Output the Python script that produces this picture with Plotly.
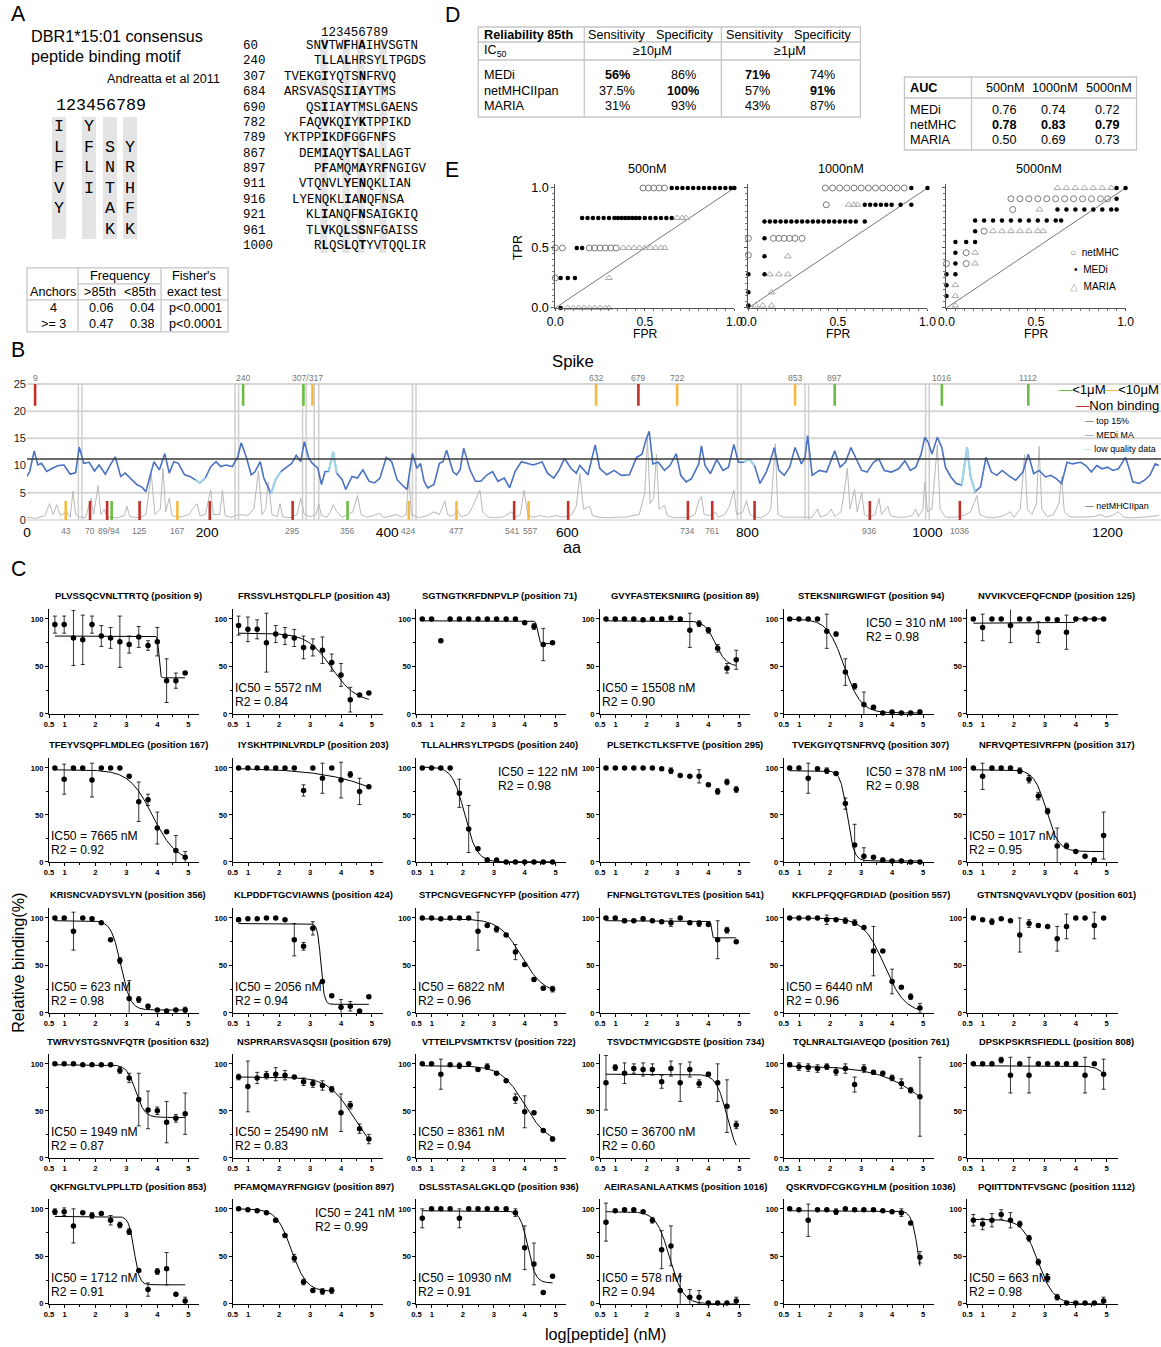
import numpy as np
import plotly.graph_objects as go

# The photographed page shows CSS pixels as  shot_x = 8 + 0.985*x,  shot_y = 6 + 0.992*y.
# Every position below is written in reference-picture pixels and mapped back through that.
OX, OY = 8.0, 6.0
SX, SY = 0.985, 0.992
W = int(round((1161 - OX) / SX))
H = int(round((1347 - OY) / SY))
FS = 1.0 / 0.988
SANS = "Liberation Sans, Arial, Helvetica, sans-serif"
MONO = "Liberation Mono, Courier New, monospace"


def fx(px):
    return ((px - OX) / SX) / W


def fy(py):
    return 1.0 - ((py - OY) / SY) / H


def fs(size):
    return size * FS


# ============================ DATA ============================
# ---- Panel A: motif
motif_header = "123456789"
motif_pos1 = ["I", "L", "F", "V", "Y"]
motif_pos4 = ["Y", "F", "L", "I"]
motif_pos6 = ["S", "N", "T", "A", "K"]
motif_pos9 = ["Y", "R", "H", "F", "K"]

align_start = [60, 240, 307, 684, 690, 782, 789, 867, 897, 911, 916, 921, 961, 1000]
align_seq = ["SNVTWFHAIHVSGTN", "TLLALHRSYLTPGDS", "TVEKGIYQTSNFRVQ", "ARSVASQSIIAYTMS",
             "QSIIAYTMSLGAENS", "FAQVKQIYKTPPIKD", "YKTPPIKDFGGFNFS", "DEMIAQYTSALLAGT",
             "PFAMQMAYRFNGIGV", "VTQNVLYENQKLIAN", "LYENQKLIANQFNSA", "KLIANQFNSAIGKIQ",
             "TLVKQLSSNFGAISS", "RLQSLQTYVTQQLIR"]
align_offset = [2, 1, 5, 5, 2, 3, 5, 3, 1, 3, 4, 2, 2, 1]

anchor_rows = ["4", "&gt;= 3"]
freq_above = ["0.06", "0.47"]
freq_below = ["0.04", "0.38"]
fisher_p = ["p&lt;0.0001", "p&lt;0.0001"]

# ---- Panel D tables
rel_methods = ["MEDi", "netMHCIIpan", "MARIA"]
sens_10uM = [56, 37.5, 31]
spec_10uM = [86, 100, 93]
sens_1uM = [71, 57, 43]
spec_1uM = [74, 91, 87]
auc_methods = ["MEDi", "netMHC", "MARIA"]
auc_thresholds = ["500nM", "1000nM", "5000nM"]
auc_500 = [0.76, 0.78, 0.50]
auc_1000 = [0.74, 0.83, 0.69]
auc_5000 = [0.72, 0.79, 0.73]

# ---- Panel E ROC points (FPR, TPR)
roc_titles = ["500nM", "1000nM", "5000nM"]
roc500_net = [(0, 0.5), (0.04, 0.5), (0.19, 0.5), (0.22, 0.5), (0.25, 0.5), (0.28, 0.5), (0.31, 0.5),
              (0.34, 0.5), (0, 0.25), (0.49, 1), (0.52, 1), (0.55, 1), (0.58, 1), (0.61, 1)]
roc500_medi = [(0.03, 0), (0.03, 0.25), (0.07, 0.25), (0.11, 0.25), (0.12, 0.5), (0.15, 0.5),
               (0.15, 0.75), (0.18, 0.75), (0.21, 0.75), (0.24, 0.75), (0.27, 0.75), (0.30, 0.75),
               (0.33, 0.75), (0.35, 0.75), (0.37, 0.75), (0.39, 0.75), (0.41, 0.75), (0.43, 0.75),
               (0.45, 0.75), (0.47, 0.75), (0.50, 0.75), (0.53, 0.75), (0.56, 0.75), (0.59, 0.75),
               (0.62, 0.75), (0.65, 0.75), (0.65, 1), (0.68, 1), (0.71, 1), (0.74, 1), (0.77, 1),
               (0.80, 1), (0.83, 1), (0.86, 1), (0.89, 1), (0.92, 1), (0.95, 1), (0.98, 1), (1.0, 1)]
roc500_maria = [(0.07, 0), (0.10, 0), (0.13, 0), (0.16, 0), (0.19, 0), (0.22, 0), (0.25, 0), (0.28, 0),
                (0.30, 0), (0.30, 0.25), (0.38, 0.5), (0.41, 0.5), (0.44, 0.5), (0.47, 0.5), (0.50, 0.5),
                (0.53, 0.5), (0.56, 0.5), (0.59, 0.5), (0.61, 0.5), (0.68, 0.75), (0.71, 0.75), (0.73, 0.75)]
roc1000_net = [(0, 0.58), (0.14, 0.58), (0.17, 0.58), (0.20, 0.58), (0.23, 0.58), (0.26, 0.58), (0.30, 0.58),
               (0, 0.44), (0.435, 0.86), (0.43, 1), (0.47, 1), (0.51, 1), (0.55, 1), (0.59, 1), (0.63, 1),
               (0.67, 1), (0.71, 1), (0.75, 1), (0.79, 1), (0.83, 1), (0.87, 1)]
roc1000_medi = [(0, 0.02), (0, 0.13), (0, 0.28), (0.09, 0.28), (0.09, 0.43), (0.09, 0.58),
                (0.09, 0.72), (0.12, 0.72), (0.15, 0.72), (0.18, 0.72), (0.21, 0.72), (0.24, 0.72),
                (0.27, 0.72), (0.30, 0.72), (0.33, 0.72), (0.36, 0.72), (0.39, 0.72), (0.42, 0.72),
                (0.45, 0.72), (0.48, 0.72), (0.51, 0.72), (0.54, 0.72), (0.57, 0.72), (0.60, 0.72),
                (0.65, 0.72), (0.65, 0.86), (0.68, 0.86), (0.71, 0.86), (0.74, 0.86), (0.77, 0.86),
                (0.80, 0.86), (0.85, 0.86), (0.91, 0.86), (0.91, 1), (1.0, 1)]
roc1000_maria = [(0.04, 0.02), (0.08, 0.02), (0.13, 0.02), (0.13, 0.13), (0.12, 0.28), (0.17, 0.28),
                 (0.22, 0.28), (0.22, 0.43), (0.56, 0.86), (0.59, 0.86), (0.61, 0.86)]
roc5000_net = [(0, 0.37), (0.11, 0.37), (0.11, 0.46), (0.21, 0.64), (0.37, 0.82), (0.36, 0.91),
               (0.41, 0.91), (0.46, 0.91), (0.51, 0.91), (0.56, 0.91), (0.61, 0.91), (0.66, 0.91),
               (0.71, 0.91), (0.76, 0.91), (0.81, 0.91), (0.86, 0.91), (0.90, 0.91)]
roc5000_medi = [(0, 0.1), (0, 0.19), (0, 0.28), (0.05, 0.28), (0.05, 0.37), (0.05, 0.46), (0.05, 0.55),
                (0.11, 0.55), (0.16, 0.55), (0.16, 0.64), (0.16, 0.73), (0.21, 0.73), (0.26, 0.73),
                (0.31, 0.73), (0.36, 0.73), (0.41, 0.73), (0.46, 0.73), (0.51, 0.73), (0.56, 0.73),
                (0.61, 0.73), (0.64, 0.73), (0.62, 0.82), (0.67, 0.82), (0.72, 0.82), (0.77, 0.82),
                (0.82, 0.82), (0.87, 0.82), (0.92, 0.82), (0.95, 0.82), (0.95, 0.91), (0.95, 1.0), (1.0, 1.0)]
roc5000_maria = [(0.05, 0.02), (0.05, 0.1), (0.05, 0.19), (0.16, 0.37), (0.16, 0.46), (0.26, 0.64),
                 (0.31, 0.64), (0.36, 0.64), (0.41, 0.64), (0.46, 0.64), (0.51, 0.64), (0.54, 0.64),
                 (0.52, 0.82), (0.62, 1), (0.67, 1), (0.72, 1), (0.77, 1), (0.82, 1), (0.87, 1), (0.92, 1)]
roc_diag = [0.0, 1.0]

# ---- Panel B: Spike profile (aa position, score)
medi_points = [(0, 8.0), (3, 8.9), (8, 12.7), (12, 10.1), (16, 10.4), (22, 8.9), (29, 9.6), (35, 10.0), (41, 10.1),
               (48, 8.4), (54, 8.7), (58, 13.4), (63, 10.4), (69, 10.6), (75, 9.0), (80, 10.1), (87, 8.4),
               (92, 10.0), (98, 11.6), (104, 8.0), (109, 8.6), (115, 7.7), (122, 6.5), (128, 6.0), (132, 5.2),
               (137, 8.3), (141, 10.7), (147, 9.2), (153, 12.2), (158, 8.6), (163, 10.7), (168, 10.4), (175, 8.3),
               (181, 8.0), (187, 7.4), (192, 6.8), (198, 7.7), (204, 9.8), (210, 10.7), (215, 9.8), (221, 10.1),
               (228, 9.8), (234, 11.6), (238, 14.2), (244, 11.3), (249, 8.3), (253, 8.8), (259, 10.7), (263, 7.7),
               (268, 5.9), (271, 4.8), (276, 7.4), (282, 8.9), (289, 9.8), (294, 10.4), (299, 11.9), (304, 10.7),
               (308, 14.4), (313, 11.3), (317, 10.4), (323, 9.5), (327, 6.5), (331, 8.9), (335, 8.9), (340, 12.5),
               (344, 8.6), (350, 7.4), (354, 5.6), (361, 8.0), (367, 7.7), (373, 9.2), (380, 7.1), (386, 6.8),
               (392, 7.7), (399, 11.5), (405, 10.7), (411, 7.4), (418, 6.2), (422, 5.6), (428, 12.2), (433, 9.5),
               (437, 10.4), (441, 7.1), (445, 5.9), (452, 6.5), (458, 10.4), (462, 10.7), (466, 12.8), (473, 8.9),
               (477, 8.3), (481, 9.2), (485, 13.2), (492, 9.2), (498, 7.1), (504, 7.1), (511, 8.3), (517, 8.9),
               (523, 7.1), (530, 7.7), (536, 5.9), (542, 8.9), (549, 10.7), (555, 10.4), (562, 10.1), (568, 10.4),
               (572, 10.7), (578, 8.6), (585, 7.7), (591, 9.2), (597, 11.3), (604, 9.5), (610, 8.6), (614, 10.0),
               (623, 8.3), (631, 13.8), (636, 9.5), (644, 8.3), (652, 9.1), (660, 8.2), (669, 8.3), (677, 11.5),
               (683, 12.1), (687, 14.5), (691, 16.3), (695, 10.3), (701, 10.6), (708, 9.1), (714, 10.0), (721, 12.2),
               (726, 8.2), (732, 7.0), (738, 7.6), (746, 10.3), (749, 13.6), (753, 10.0), (759, 8.5), (766, 11.1),
               (773, 9.1), (779, 9.7), (785, 13.9), (790, 10.6), (796, 10.6), (802, 11.2), (808, 10.0), (814, 6.7),
               (821, 8.8), (825, 10.6), (830, 13.3), (835, 9.1), (841, 8.2), (847, 9.7), (853, 13.3), (860, 10.3),
               (864, 11.5), (867, 15.5), (872, 8.2), (880, 9.1), (888, 8.8), (897, 12.7), (903, 9.7), (909, 10.6),
               (915, 13.3), (921, 11.2), (927, 9.1), (933, 8.8), (940, 10.6), (946, 11.2), (952, 9.1), (960, 8.8),
               (968, 9.4), (975, 10.9), (981, 9.1), (987, 9.7), (993, 12.1), (997, 15.2), (1001, 14.2), (1005, 12.1),
               (1011, 15.2), (1016, 13.3), (1020, 9.7), (1026, 7.9), (1032, 6.7), (1038, 6.4), (1044, 13.3),
               (1048, 7.9), (1053, 5.2), (1059, 6.1), (1065, 11.5), (1071, 8.8), (1077, 8.2), (1083, 9.1),
               (1092, 7.9), (1098, 7.3), (1106, 8.8), (1112, 12.1), (1118, 8.5), (1124, 9.1), (1131, 7.9),
               (1137, 8.2), (1143, 7.6), (1149, 6.7), (1155, 10.6), (1161, 10.3), (1170, 10.6), (1176, 10.0),
               (1182, 8.8), (1188, 10.0), (1194, 9.4), (1200, 9.7), (1206, 9.1), (1212, 9.4), (1220, 11.5),
               (1224, 9.4), (1228, 7.0), (1235, 6.7), (1241, 7.3), (1247, 8.2), (1253, 10.3), (1257, 10.0)]
lowq_ranges = [(187, 198), (271, 282), (335, 344), (796, 808), (1038, 1053)]
net_points = [(0, 0.5), (10, 0.3), (20, 0.8), (25, 3.0), (29, 1.0), (33, 2.8), (37, 0.8), (44, 1.5), (48, 0.5),
              (51, 5.3), (54, 1.0), (58, 0.6), (65, 0.4), (71, 4.0), (74, 1.0), (79, 6.3), (82, 1.0), (86, 2.0),
              (89, 0.5), (100, 0.4), (108, 0.8), (111, 2.5), (114, 0.6), (125, 0.4), (132, 1.0), (138, 8.5),
              (142, 1.0), (148, 2.0), (151, 9.5), (154, 1.5), (158, 4.0), (161, 0.8), (170, 0.5), (180, 1.0),
              (186, 2.5), (189, 3.0), (192, 0.8), (198, 1.0), (204, 5.5), (207, 1.0), (214, 1.0), (217, 5.5),
              (220, 0.8), (226, 0.5), (236, 1.0), (245, 0.8), (252, 2.0), (257, 9.0), (261, 1.0), (265, 2.0),
              (268, 7.0), (272, 1.0), (278, 0.6), (281, 3.0), (284, 0.6), (292, 0.4), (300, 1.0), (304, 4.0),
              (308, 1.0), (315, 0.6), (321, 1.0), (324, 3.0), (327, 0.8), (333, 0.5), (337, 1.5), (340, 2.8),
              (344, 1.5), (350, 0.5), (356, 1.0), (362, 1.5), (367, 4.5), (371, 1.0), (378, 0.5), (385, 0.8),
              (392, 1.2), (396, 0.4), (405, 0.8), (410, 1.0), (416, 0.5), (421, 1.0), (424, 8.0), (427, 1.0),
              (435, 0.4), (445, 0.8), (452, 1.5), (458, 1.0), (464, 3.5), (467, 1.0), (472, 0.6), (478, 1.8),
              (482, 0.6), (490, 1.0), (495, 2.5), (500, 4.5), (503, 5.5), (506, 1.5), (512, 0.5), (520, 0.4),
              (530, 0.6), (538, 1.5), (542, 0.5), (548, 1.0), (552, 5.5), (556, 1.0), (562, 0.5), (570, 0.8),
              (578, 0.5), (588, 0.8), (596, 0.5), (605, 1.0), (610, 2.5), (614, 8.5), (618, 2.0), (625, 2.5),
              (628, 0.8), (635, 0.5), (645, 0.4), (655, 0.5), (665, 0.5), (672, 0.8), (680, 1.0), (686, 5.0),
              (689, 15.0), (692, 3.0), (696, 4.0), (699, 12.0), (702, 2.0), (708, 2.7), (711, 0.8), (718, 0.4),
              (728, 0.5), (735, 0.5), (742, 1.0), (746, 3.5), (749, 4.3), (752, 1.0), (758, 0.8), (764, 1.5),
              (768, 0.5), (775, 1.0), (780, 2.5), (785, 5.5), (788, 1.0), (795, 1.5), (799, 3.5), (803, 1.0),
              (808, 0.5), (815, 0.4), (822, 1.0), (826, 2.0), (831, 14.0), (834, 1.0), (840, 0.5), (850, 0.5),
              (858, 0.4), (866, 0.5), (872, 0.5), (878, 2.0), (881, 0.5), (889, 1.0), (893, 2.0), (897, 0.6),
              (904, 1.5), (908, 5.6), (911, 9.5), (914, 2.0), (919, 5.6), (922, 1.5), (927, 5.0), (930, 1.0),
              (936, 0.5), (942, 1.0), (946, 4.0), (949, 1.0), (956, 2.5), (959, 0.8), (966, 0.5), (975, 0.5),
              (983, 0.8), (987, 2.0), (990, 0.6), (995, 2.0), (997, 7.0), (1000, 1.5), (1005, 2.0), (1011, 13.8),
              (1014, 2.0), (1020, 0.5), (1030, 0.5), (1040, 0.8), (1048, 1.5), (1055, 4.5), (1058, 1.0),
              (1065, 0.5), (1075, 0.4), (1085, 0.8), (1092, 1.5), (1096, 0.5), (1103, 2.0), (1108, 12.0),
              (1111, 2.0), (1116, 1.0), (1121, 3.0), (1124, 13.5), (1127, 2.0), (1133, 0.6), (1140, 1.0),
              (1146, 3.0), (1149, 8.0), (1152, 1.5), (1158, 0.6), (1165, 0.5), (1175, 0.5), (1185, 0.6),
              (1192, 1.0), (1198, 0.5), (1205, 0.8), (1212, 1.5), (1218, 0.5), (1228, 0.4), (1240, 0.5),
              (1250, 0.6), (1257, 0.8)]
top15_value = 11.2
low_quality_pairs = [57, 61, 231, 235, 306, 310, 319, 324, 428, 432, 789, 793, 864, 868, 998, 1002]
top_pep_aa = [9, 240, 307, 317, 632, 679, 722, 853, 897, 1016, 1112]
top_pep_cls = ["non", "strong", "strong", "weak", "weak", "non", "weak", "weak", "strong", "strong", "strong"]
top_label_text = ["9", "240", "307/317", "632", "679", "722", "853", "897", "1016", "1112"]
top_label_aa = [9, 240, 312, 632, 679, 722, 853, 897, 1016, 1112]
bot_pep_aa = [43, 70, 89, 94, 125, 167, 203, 295, 356, 424, 477, 541, 557, 601, 734, 761, 808, 936, 1036]
bot_pep_cls = ["weak", "non", "non", "strong", "non", "weak", "non", "non", "strong", "weak", "weak", "non",
               "weak", "non", "non", "non", "non", "non", "non"]
bot_label_text = ["43", "70", "89/94", "125", "167", "295", "356", "424", "477", "541", "557", "734", "761", "936", "1036"]
bot_label_aa = [43, 70, 91, 125, 167, 295, 356, 424, 477, 539, 559, 734, 761, 936, 1036]
spike_xticks = [0, 200, 400, 600, 800, 1000, 1200]
spike_yticks = [0, 5, 10, 15, 20, 25]
spike_grid = [5, 15, 20, 25]

# ---- Panel C: competition binding curves
log_conc = [0.69, 0.99, 1.29, 1.59, 1.89, 2.19, 2.49, 2.79, 3.09, 3.40, 3.70, 4.00, 4.30, 4.60, 4.90]
peptides = ["PLVSSQCVNLTTRTQ", "FRSSVLHSTQDLFLP", "SGTNGTKRFDNPVLP", "GVYFASTEKSNIIRG", "STEKSNIIRGWIFGT",
            "NVVIKVCEFQFCNDP", "TFEYVSQPFLMDLEG", "IYSKHTPINLVRDLP", "TLLALHRSYLTPGDS", "PLSETKCTLKSFTVE",
            "TVEKGIYQTSNFRVQ", "NFRVQPTESIVRFPN", "KRISNCVADYSVLYN", "KLPDDFTGCVIAWNS", "STPCNGVEGFNCYFP",
            "FNFNGLTGTGVLTES", "KKFLPFQQFGRDIAD", "GTNTSNQVAVLYQDV", "TWRVYSTGSNVFQTR", "NSPRRARSVASQSII",
            "VTTEILPVSMTKTSV", "TSVDCTMYICGDSTE", "TQLNRALTGIAVEQD", "DPSKPSKRSFIEDLL", "QKFNGLTVLPPLLTD",
            "PFAMQMAYRFNGIGV", "DSLSSTASALGKLQD", "AEIRASANLAATKMS", "QSKRVDFCGKGYHLM", "PQIITTDNTFVSGNC"]
positions = [9, 43, 71, 89, 94, 125, 167, 203, 240, 295, 307, 317, 356, 424, 477, 541, 557, 601,
             632, 679, 722, 734, 761, 808, 853, 897, 936, 1016, 1036, 1112]
binding = [
    [94, 94, 80, 78, 94, 82, 80, 76, 73, 81, 72, 76, 35, 35, 43],
    [93, 89, 89, 75, 84, 82, 80, 70, 70, 67, 54, 41, 15, 20, 22],
    [100, 100, 77, 100, 100, 100, 100, 100, 100, 100, 100, 96, 92, 73, 75],
    [100, 100, 100, 100, 99, 100, 100, 101, 100, 88, 95, 88, 69, 48, 57],
    [100, 100, 100, 100, 87, 84, 44, 29, 10, 7, 1, 2, 1, 1, 2],
    [100, 91, 100, 100, 93, 100, 100, 86, 100, 99, 86, 100, 100, 100, 100],
    [100, 88, 100, 100, 87, 100, 100, 100, 91, 64, 66, 36, 32, 12, 5],
    [100, 100, 100, 100, 100, 100, 100, 76, 100, 89, 100, 87, 93, 75, 80],
    [100, 100, 100, 100, 73, 35, 14, 2, 2, 0, 0, 0, 0, 0, 0],
    [100, 100, 100, 100, 100, 100, 99, 97, 92, 91, 91, 82, 75, 85, 77],
    [100, 100, 89, 99, 97, 94, 62, 18, 6, 5, 2, 1, 1, 0, 0],
    [100, 91, 100, 100, 100, 97, 88, 70, 54, 17, 17, 11, 6, 2, 28],
    [100, 100, 86, 100, 99, 95, 77, 55, 15, 14, 7, 3, 2, 3, 3],
    [98, 99, 99, 100, 100, 98, 77, 70, 89, 33, 18, 6, 7, 2, 17],
    [100, 100, 99, 100, 100, 100, 86, 92, 88, 82, 64, 51, 35, 26, 25],
    [100, 100, 97, 97, 99, 97, 96, 95, 100, 95, 94, 93, 77, 87, 75],
    [100, 100, 100, 100, 98, 98, 97, 95, 90, 65, 65, 33, 27, 17, 5],
    [100, 98, 96, 99, 97, 82, 94, 92, 91, 78, 91, 100, 100, 92, 100],
    [100, 100, 100, 99, 99, 99, 99, 93, 85, 62, 51, 50, 38, 42, 47],
    [86, 76, 85, 88, 89, 88, 86, 81, 79, 77, 73, 48, 56, 31, 20],
    [100, 100, 89, 99, 98, 100, 94, 97, 90, 82, 63, 49, 48, 29, 20],
    [80, 96, 90, 95, 94, 94, 81, 95, 80, 94, 79, 89, 80, 55, 35],
    [99, 97, 96, 95, 97, 92, 95, 78, 95, 91, 90, 85, 79, 72, 65],
    [100, 100, 100, 104, 88, 100, 88, 100, 100, 100, 100, 100, 88, 100, 89],
    [97, 97, 82, 96, 93, 95, 88, 83, 76, 35, 15, 34, 37, 10, 3],
    [100, 99, 98, 96, 88, 72, 48, 23, 14, 13, 14, None, None, None, None],
    [90, 100, 100, 100, 90, 100, 100, 100, 100, 100, 96, 59, 42, 12, 29],
    [86, 98, 99, 99, 97, 88, 57, 61, 14, 7, 7, 1, 1, 1, 3],
    [100, 99, 88, 99, 99, 97, 100, 99, 99, 99, 98, 97, 96, 85, 49],
    [88, 84, 88, 94, 88, 84, 69, 44, 27, 7, 1, 1, 1, 1, 3],
]
binding_err = [
    [9, 9, 29, 26, 9, 11, 11, 27, 9, 11, 5, 15, 23, 8, 0],
    [10, 13, 10, 31, 9, 9, 9, 12, 9, 14, 9, 12, 13, 0, 0],
    [0, 0, 0, 0, 0, 0, 0, 0, 0, 0, 0, 0, 3, 17, 0],
    [0, 0, 0, 0, 0, 0, 0, 0, 0, 18, 3, 3, 4, 5, 10],
    [0, 0, 0, 0, 18, 2, 14, 3, 13, 2, 0, 1, 0, 0, 2],
    [0, 14, 0, 0, 18, 0, 0, 11, 0, 0, 18, 0, 0, 0, 0],
    [0, 16, 0, 0, 18, 0, 0, 0, 0, 21, 6, 17, 0, 16, 6],
    [0, 0, 0, 0, 0, 0, 0, 6, 0, 16, 0, 19, 3, 14, 0],
    [0, 0, 0, 0, 15, 25, 0, 2, 0, 0, 0, 0, 0, 0, 0],
    [0, 0, 0, 0, 0, 0, 0, 3, 0, 0, 7, 0, 3, 3, 3],
    [0, 0, 16, 0, 3, 0, 6, 22, 9, 0, 2, 0, 0, 0, 0],
    [0, 14, 0, 0, 0, 3, 4, 4, 3, 19, 3, 0, 0, 2, 25],
    [0, 0, 20, 0, 0, 0, 0, 3, 19, 3, 2, 0, 0, 0, 3],
    [2, 0, 0, 0, 0, 0, 17, 4, 7, 0, 0, 8, 5, 0, 0],
    [0, 0, 0, 0, 0, 0, 20, 0, 3, 0, 8, 0, 2, 0, 3],
    [0, 0, 2, 0, 2, 0, 0, 4, 0, 0, 3, 0, 20, 3, 0],
    [0, 0, 0, 0, 5, 0, 3, 3, 0, 26, 0, 13, 0, 3, 5],
    [0, 0, 3, 0, 0, 18, 4, 0, 0, 13, 13, 0, 0, 14, 0],
    [0, 0, 0, 0, 0, 0, 0, 3, 5, 28, 20, 4, 22, 4, 22],
    [3, 27, 6, 4, 7, 5, 0, 4, 4, 5, 3, 20, 4, 5, 5],
    [0, 0, 16, 0, 3, 0, 0, 3, 0, 0, 5, 17, 0, 0, 2],
    [29, 3, 11, 5, 7, 6, 7, 8, 20, 8, 4, 2, 20, 28, 4],
    [2, 4, 4, 4, 3, 4, 5, 8, 4, 2, 2, 3, 5, 3, 42],
    [0, 0, 0, 3, 19, 0, 19, 0, 0, 0, 0, 0, 19, 0, 16],
    [3, 4, 18, 0, 3, 0, 5, 3, 3, 0, 7, 3, 17, 0, 4],
    [0, 0, 0, 0, 2, 0, 4, 3, 2, 3, 3, 0, 0, 0, 0],
    [10, 0, 0, 0, 10, 0, 0, 0, 0, 0, 4, 23, 22, 0, 0],
    [20, 0, 0, 0, 0, 3, 20, 21, 15, 8, 7, 0, 0, 0, 4],
    [0, 0, 17, 0, 0, 3, 0, 0, 0, 0, 0, 0, 4, 0, 6],
    [6, 6, 7, 5, 8, 3, 3, 3, 4, 3, 0, 0, 0, 0, 4],
]
# 4-parameter logistic fit parameters (None = no fit drawn)
fit_top = [82, 85, 98, 98, 100, 95.5, 98, 100, 101, None, 97, 98, 97, 94, 99, 97, 100, None,
           99, 86, 98, 89, 98, 98, 92, 100, 98, 97, 98, 89]
fit_bottom = [38, 12, 74, 50, 1, 100, 0, 0, 0, None, 1, 11, 3, 9, 20, 79, 0, None,
              43, 0, 15, 0, 0, 0, 20, 13, 22, 0, 0, 0]
fit_logmid = [4.05, 3.7, 4.42, 4.23, 2.45, 3.97, 3.85, 6.6, 2.06, None, 2.55, 3.05, 2.82, 3.35, 3.9, 4.1, 3.75, None,
              3.3, 4.41, 4.0, 4.6, 5.49, 5.36, 3.25, 2.4, 4.1, 2.75, 4.86, 2.78]
fit_hill = [20, 1.1, 15, 2.5, 1.6, 50, 1.15, 0.35, 2.2, None, 4, 2.2, 2.8, 8, 1.2, 30, 1.3, None,
            3, 1.06, 1.15, 2.5, 0.5, 2.17, 5, 1.8, 3.5, 2.0, 4, 1.7]
ic50_nM = [None, 5572, None, 15508, 310, None, 7665, None, 122, None, 378, 1017, 623, 2056, 6822, None, 6440, None,
           1949, 25490, 8361, 36700, None, None, 1712, 241, 10930, 578, None, 663]
r2_values = [None, 0.84, None, 0.90, 0.98, None, 0.92, None, 0.98, None, 0.98, 0.95, 0.98, 0.94, 0.96, None, 0.96, None,
             0.87, 0.83, 0.94, 0.60, None, None, 0.91, 0.99, 0.91, 0.94, None, 0.98]
label_corner = [None, "ll", None, "ll", "ur", None, "ll", None, "ur", None, "ur", "ll", "ll", "ll", "ll", None, "ll", None,
                "ll", "ll", "ll", "ll", None, None, "ll", "ur", "ll", "ll", None, "ll"]
c_xticks = [0.5, 1, 2, 3, 4, 5]
c_xtick_text = ["0.5", "1", "2", "3", "4", "5"]
c_yticks = [0, 50, 100]

# ============================ FIGURE ============================
layout = dict(width=W, height=H, margin=dict(l=0, r=0, t=0, b=0), paper_bgcolor="white",
              plot_bgcolor="rgba(0,0,0,0)", showlegend=False, font=dict(family=SANS, color="black"))
annotations, shapes, traces = [], [], []
axis_count = [0]


def new_axes(xpx, ypx, xa, ya):
    axis_count[0] += 1
    n = axis_count[0]
    s = "" if n == 1 else str(n)
    xa = dict(xa)
    ya = dict(ya)
    xa.update(domain=[max(0, fx(xpx[0])), min(1, fx(xpx[1]))], anchor="y" + s)
    ya.update(domain=[max(0, fy(ypx[1])), min(1, fy(ypx[0]))], anchor="x" + s)
    layout["xaxis" + s] = xa
    layout["yaxis" + s] = ya
    return "x" + s, "y" + s


def text(s, px, py, size=12, xa="center", ya="middle", color="black", family=SANS, angle=0, weight=None):
    f = dict(size=fs(size), color=color, family=family)
    if weight:
        f["weight"] = weight
    annotations.append(dict(text=s, x=fx(px), y=fy(py), xref="paper", yref="paper", showarrow=False,
                            xanchor=xa, yanchor=ya, font=f, textangle=angle, borderpad=0))


def pline(x0, y0, x1, y1, color="#c6c6c6", width=1.3):
    shapes.append(dict(type="line", xref="paper", yref="paper", x0=fx(x0), y0=fy(y0), x1=fx(x1), y1=fy(y1),
                       line=dict(color=color, width=width), layer="below"))


def prect(x0, y0, x1, y1, fill="#e4e4e4", line=None, width=1.3):
    shapes.append(dict(type="rect", xref="paper", yref="paper", x0=fx(x0), y0=fy(y1), x1=fx(x1), y1=fy(y0),
                       fillcolor=fill if fill else "rgba(0,0,0,0)",
                       line=dict(color=line if line else "rgba(0,0,0,0)", width=width if line else 0),
                       layer="below"))


# ---------------- Panel letters ----------------
for lab, px, py in [("A", 18, 16), ("B", 18, 352), ("C", 18, 571), ("D", 452, 17), ("E", 452, 172)]:
    text(lab, px, py, size=21)

# ---------------- Panel A ----------------
text("DBR1*15:01 consensus", 30, 38, size=16, xa="left")
text("peptide binding motif", 30, 58, size=16, xa="left")
text("Andreatta et al 2011", 221, 81, size=12.5, xa="right")
motif_col_px = [59, 89, 110, 130]
motif_row_py = [129, 150, 170, 191, 211, 232]
for cx in motif_col_px:
    prect(cx - 7, 119, cx + 7, 241)
text(motif_header, 55, 108, size=16.5, xa="left", family=MONO)
for letters, cx, r0 in zip([motif_pos1, motif_pos4, motif_pos6, motif_pos9], motif_col_px, [0, 0, 1, 1]):
    for j, L in enumerate(letters):
        text(L, cx, motif_row_py[r0 + j], size=16.5, family=MONO)

motif_sets = {0: set(motif_pos1), 3: set(motif_pos4), 5: set(motif_pos6), 8: set(motif_pos9)}
CH = 7.38
HDR_X = 320
for p in [0, 3, 5, 8]:
    prect(HDR_X + p * CH, 40, HDR_X + (p + 1) * CH, 255)
text(motif_header, HDR_X, 35, size=12.3, family=MONO, xa="left")
for i, (num, seq, off) in enumerate(zip(align_start, align_seq, align_offset)):
    py = 48 + 15.38 * i
    text(str(num), 242, py, size=12.3, family=MONO, xa="left")
    chars = []
    for j, ch in enumerate(seq):
        core = j - off
        if core in motif_sets and ch in motif_sets[core]:
            chars.append("<b>" + ch + "</b>")
        else:
            chars.append(ch)
    text("".join(chars), HDR_X - off * CH, py, size=12.3, family=MONO, xa="left")

# Panel A table
prect(27, 270, 228, 334, fill=None, line="#c6c6c6")
pline(78, 270, 78, 334)
pline(161, 270, 161, 334)
pline(78, 286, 161, 286)
pline(27, 302, 228, 302)
text("Frequency", 120, 278, 12.5)
text("Fisher's", 194, 278, 12.5)
text("Anchors", 53, 294, 12.5)
text("&gt;85th", 100, 294, 12.5)
text("&lt;85th", 140, 294, 12.5)
text("exact test", 194, 294, 12.5)
for i in range(2):
    py = 310 + 16 * i
    text(anchor_rows[i], 53, py, 12.5)
    text(freq_above[i], 101, py, 12.5)
    text(freq_below[i], 142, py, 12.5)
    text(fisher_p[i], 195, py, 12.5)

# ---------------- Panel D ----------------
prect(478, 29, 860, 119, fill=None, line="#c6c6c6")
pline(478, 44, 860, 44)
pline(478, 62, 860, 62)
pline(584, 29, 584, 119)
pline(721, 29, 721, 119)
text("<b>Reliability 85th</b>", 483, 37, 12.5, xa="left")
for s, cx in zip(["Sensitivity", "Specificity", "Sensitivity", "Specificity"], [617, 685, 755, 823]):
    text(s, cx, 37, 12.5)
text("IC<sub>50</sub>", 483, 53, 12.5, xa="left")
text("≥10μM", 652, 53, 12.5)
text("≥1μM", 790, 53, 12.5)
rel_cols = [sens_10uM, spec_10uM, sens_1uM, spec_1uM]
for i, m in enumerate(rel_methods):
    py = [77, 93, 108][i]
    text(m, 483, py, 12.5, xa="left")
    for col, cx in zip(rel_cols, [617, 683, 757, 822]):
        s = "%g%%" % col[i]
        if col[i] == max(col):
            s = "<b>" + s + "</b>"
        text(s, cx, py, 12.5)

prect(904, 79, 1136, 152, fill=None, line="#c6c6c6")
pline(904, 100, 1136, 100)
pline(971, 79, 971, 152)
text("<b>AUC</b>", 909, 90, 12.5, xa="left")
auc_cols = [auc_500, auc_1000, auc_5000]
for t, cx in zip(auc_thresholds, [1005, 1054, 1108]):
    text(t, cx, 90, 12.5)
for i, m in enumerate(auc_methods):
    py = [112, 127, 142][i]
    text(m, 909, py, 12.5, xa="left")
    for col, cx in zip(auc_cols, [1004, 1053, 1107]):
        s = "%.2f" % col[i]
        if col[i] == max(col):
            s = "<b>" + s + "</b>"
        text(s, cx, py, 12.5)

# ---------------- Panel E ----------------
roc_sets = [(roc500_net, roc500_medi, roc500_maria), (roc1000_net, roc1000_medi, roc1000_maria),
            (roc5000_net, roc5000_medi, roc5000_maria)]
e_left = [555, 748, 946]
E_W = 179
E_Y0, E_Y1 = 310, 190
for k in range(3):
    L = e_left[k]
    top_px = E_Y0 - (E_Y0 - E_Y1) * 1.03
    xa = dict(range=[0, 1], showline=True, linecolor="#555", linewidth=1, ticks="outside", ticklen=2,
              tickcolor="#555", tickvals=[0, 0.5, 1], ticktext=["0.0", "0.5", "1.0"],
              tickfont=dict(size=fs(12), family=SANS), showgrid=False, zeroline=False,
              minor=dict(ticks="outside", ticklen=2, dtick=0.05, tick0=0, tickcolor="#777", showgrid=False))
    ya = dict(range=[0, 1.03], showline=True, linecolor="#555", linewidth=1, ticks="outside", ticklen=3,
              tickcolor="#555", tickvals=[0, 0.5, 1], ticktext=["0.0", "0.5", "1.0"],
              showticklabels=(k == 0), tickfont=dict(size=fs(12.5), family=SANS), showgrid=False,
              zeroline=False,
              minor=dict(ticks="outside", ticklen=2, dtick=0.05, tick0=0, tickcolor="#777", showgrid=False))
    xr, yr = new_axes((L, L + E_W), (top_px, E_Y0), xa, ya)
    net, medi, maria = roc_sets[k]
    traces.append(go.Scatter(x=roc_diag, y=roc_diag, mode="lines", line=dict(color="#777", width=1),
                             xaxis=xr, yaxis=yr, hoverinfo="skip"))
    traces.append(go.Scatter(x=[p[0] for p in maria], y=[p[1] for p in maria], mode="markers",
                             marker=dict(symbol="triangle-up-open", size=6, color="#aaaaaa", line=dict(width=1)),
                             xaxis=xr, yaxis=yr, cliponaxis=False))
    traces.append(go.Scatter(x=[p[0] for p in net], y=[p[1] for p in net], mode="markers",
                             marker=dict(symbol="circle-open", size=6, color="#7a7a7a", line=dict(width=1)),
                             xaxis=xr, yaxis=yr, cliponaxis=False))
    traces.append(go.Scatter(x=[p[0] for p in medi], y=[p[1] for p in medi], mode="markers",
                             marker=dict(symbol="circle", size=4.5, color="black"),
                             xaxis=xr, yaxis=yr, cliponaxis=False))
    text(roc_titles[k], L + E_W / 2 + 3, 171, 12.5)
    text("FPR", L + E_W / 2, 336, 12)
text("TPR", 518, 250, 12.5, angle=-90)
text('<span style="color:#7a7a7a">○</span>  netMHC', 1068, 255, 10, xa="left")
text('•  MEDi', 1072, 272, 10, xa="left")
text('<span style="color:#aaaaaa">△</span>  MARIA', 1068, 289, 10, xa="left")

# ---------------- Panel B ----------------
B_X0, B_X1 = 27, 1161
B_YPX0, B_PXU = 522, 5.44
yb_lo, yb_hi = -0.4, 25.4
xa = dict(range=[0, 1260], showline=False, showgrid=False, zeroline=False, ticks="", tickvals=spike_xticks,
          tickfont=dict(size=fs(13.5), family=SANS))
ya = dict(range=[yb_lo, yb_hi], showline=False, showgrid=False, zeroline=False, ticks="", tickvals=spike_yticks,
          tickfont=dict(size=fs(11), family=SANS, color="#222"))
xb, yb = new_axes((B_X0, B_X1), (B_YPX0 - yb_hi * B_PXU, B_YPX0 - yb_lo * B_PXU), xa, ya)
for g in spike_grid + [0]:
    shapes.append(dict(type="line", xref=xb, yref=yb, x0=0, x1=1260, y0=g, y1=g,
                       line=dict(color="#d6d6d6" if g else "#e2e2e2", width=2), layer="below"))
vx, vy = [], []
for a in low_quality_pairs:
    vx += [a, a, None]
    vy += [0, 25, None]
traces.append(go.Scatter(x=vx, y=vy, mode="lines", line=dict(color="#cfcfcf", width=1.5), xaxis=xb, yaxis=yb))
traces.append(go.Scatter(x=[p[0] for p in net_points], y=[p[1] for p in net_points], mode="lines",
                         line=dict(color="#b8b8b8", width=1), xaxis=xb, yaxis=yb))
traces.append(go.Scatter(x=[p[0] for p in medi_points], y=[p[1] for p in medi_points], mode="lines",
                         line=dict(color="#4a72c2", width=1.6), xaxis=xb, yaxis=yb))
for lo, hi in lowq_ranges:
    seg = [p for p in medi_points if lo <= p[0] <= hi]
    traces.append(go.Scatter(x=[p[0] for p in seg], y=[p[1] for p in seg], mode="lines",
                             line=dict(color="#9fd4ea", width=2.2), xaxis=xb, yaxis=yb))
traces.append(go.Scatter(x=[0, 1260], y=[top15_value, top15_value], mode="lines",
                         line=dict(color="#3a3a3a", width=1.6), xaxis=xb, yaxis=yb))
cls_color = {"strong": "#6cbb45", "weak": "#f5b940", "non": "#c0302c"}
for cls in ["strong", "weak", "non"]:
    mx, my = [], []
    for a, c in zip(top_pep_aa, top_pep_cls):
        if c == cls:
            mx += [a, a, None]
            my += [21, 25, None]
    for a, c in zip(bot_pep_aa, bot_pep_cls):
        if c == cls:
            mx += [a, a, None]
            my += [0, 3.5, None]
    traces.append(go.Scatter(x=mx, y=my, mode="lines", line=dict(color=cls_color[cls], width=2.6),
                             xaxis=xb, yaxis=yb))
for t, a in zip(top_label_text, top_label_aa):
    annotations.append(dict(text=t, x=a, y=fy(380), xref=xb, yref="paper", showarrow=False,
                            font=dict(size=fs(8.5), color="#777", family=SANS), xanchor="center",
                            yanchor="middle"))
for t, a in zip(bot_label_text, bot_label_aa):
    annotations.append(dict(text=t, x=a, y=fy(533), xref=xb, yref="paper", showarrow=False,
                            font=dict(size=fs(8.5), color="#777", family=SANS), xanchor="center",
                            yanchor="middle"))
text("Spike", 573, 364, 16.5)
text("aa", 572, 549, 16)
text('<span style="color:#6cbb45">—</span>&lt;1μM', 1057, 392, 13, xa="left")
text('<span style="color:#f5b940">—</span>&lt;10μM', 1103, 392, 13, xa="left")
text('<span style="color:#c0302c">—</span>Non binding', 1074, 408, 13, xa="left")
text('<span style="color:#3a3a3a">—</span> top 15%', 1083, 423, 8.8, xa="left")
text('<span style="color:#4a72c2">—</span> MEDi MA', 1083, 437, 8.8, xa="left")
text('<span style="color:#9fd4ea">—</span> low quality data', 1081, 451, 8.8, xa="left")
text('<span style="color:#3a3a3a">—</span> netMHCIIpan', 1083, 508, 8.8, xa="left")

# ---------------- Panel C ----------------
C_LEFT, C_STEP, C_W = 49, 183.6, 150
row_y100 = [621, 770, 920, 1066, 1211]
row_y0 = [716, 864, 1015, 1160, 1306]
title_py = [598, 747, 897, 1044, 1189]
tickfont_c = dict(size=fs(7.5), family=SANS, weight="bold")
for k in range(30):
    r, c = divmod(k, 6)
    L = C_LEFT + C_STEP * c
    Y0, Y100 = row_y0[r], row_y100[r]
    top_px = Y0 - 1.1 * (Y0 - Y100)
    xa = dict(range=[0.5, 5.35], showline=True, linecolor="black", linewidth=1, ticks="outside", ticklen=3,
              tickwidth=1, tickcolor="black", tickvals=c_xticks, ticktext=c_xtick_text, tickfont=tickfont_c,
              showgrid=False, zeroline=False,
              minor=dict(ticks="outside", ticklen=2, tickvals=[1.5, 2.5, 3.5, 4.5], tickcolor="black",
                         showgrid=False))
    ya = dict(range=[0, 110], showline=True, linecolor="black", linewidth=1, ticks="outside", ticklen=3,
              tickwidth=1, tickcolor="black", tickvals=c_yticks, tickfont=tickfont_c, showgrid=False,
              zeroline=False,
              minor=dict(ticks="outside", ticklen=2, tickvals=[25, 75], tickcolor="black", showgrid=False))
    xr, yr = new_axes((L, L + C_W), (top_px, Y0), xa, ya)
    traces.append(go.Scatter(x=log_conc, y=binding[k], mode="markers",
                             marker=dict(color="black", size=5.5),
                             error_y=dict(type="data", array=binding_err[k], visible=True, color="black",
                                          thickness=0.8, width=2),
                             xaxis=xr, yaxis=yr, cliponaxis=False))
    if fit_top[k] is not None:
        xs = [x for x, y in zip(log_conc, binding[k]) if y is not None]
        xc = np.linspace(xs[0], xs[-1], 300)
        yc = fit_bottom[k] + (fit_top[k] - fit_bottom[k]) / (1.0 + 10.0 ** ((xc - fit_logmid[k]) * fit_hill[k]))
        traces.append(go.Scatter(x=xc, y=yc, mode="lines", line=dict(color="black", width=1),
                                 xaxis=xr, yaxis=yr))
    text("%s (position %d)" % (peptides[k], positions[k]), L + 79 + 2 * c, title_py[r], 9.3, weight="bold")
    if label_corner[k] == "ll":
        text("IC50 = %d nM" % ic50_nM[k], L + 1, Y0 - 26, 12, xa="left")
        text("R2 = %.2f" % r2_values[k], L + 1, Y0 - 12, 12, xa="left")
    elif label_corner[k] == "ur":
        text("IC50 = %d nM" % ic50_nM[k], L + 81, Y100 + 4, 12, xa="left")
        text("R2 = %.2f" % r2_values[k], L + 81, Y100 + 18, 12, xa="left")

text("Relative binding(%)", 18, 965, 16, angle=-90)
text("log[peptide] (nM)", 605, 1336, 16)

layout["annotations"] = annotations
layout["shapes"] = shapes
fig = go.Figure(data=traces, layout=layout)
fig.write_html("out.html")
